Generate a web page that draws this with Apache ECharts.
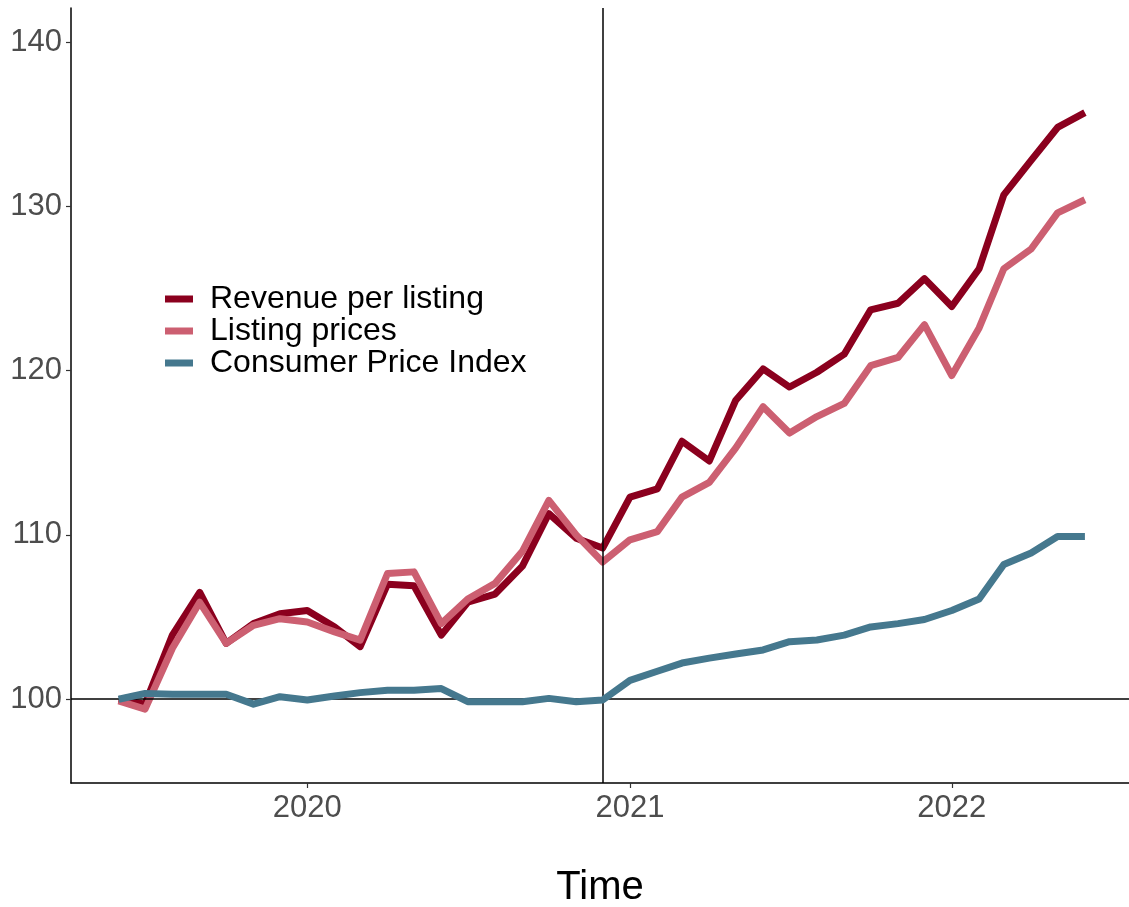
<!DOCTYPE html>
<html>
<head>
<meta charset="utf-8">
<script src="https://cdn.jsdelivr.net/npm/echarts@6/dist/echarts.min.js"></script>
<style>
html,body{margin:0;padding:0;background:#fff;}
#chart{width:1129px;height:907px;}
</style>
</head>
<body>
<div id="chart"></div>
<script>
const months = [
 '2019-06-01','2019-07-01','2019-08-01','2019-09-01','2019-10-01','2019-11-01','2019-12-01',
 '2020-01-01','2020-02-01','2020-03-01','2020-04-01','2020-05-01','2020-06-01','2020-07-01','2020-08-01','2020-09-01','2020-10-01','2020-11-01','2020-12-01',
 '2021-01-01','2021-02-01','2021-03-01','2021-04-01','2021-05-01','2021-06-01','2021-07-01','2021-08-01','2021-09-01','2021-10-01','2021-11-01','2021-12-01',
 '2022-01-01','2022-02-01','2022-03-01','2022-04-01','2022-05-01','2022-06-01'
];
const revenuePerListing = [
 100, 99.7, 103.9, 106.5, 103.4, 104.6, 105.2,
 105.4, 104.4, 103.2, 107.0, 106.9, 103.9, 105.9, 106.4, 108.1, 111.3, 109.8, 109.2,
 112.3, 112.8, 115.7, 114.5, 118.2, 120.1, 119.0, 119.9, 121.0, 123.7, 124.1, 125.6,
 123.9, 126.2, 130.7, 132.8, 134.8, 135.7
];
const listingPrices = [
 99.9, 99.4, 103.1, 105.9, 103.4, 104.5, 104.9,
 104.7, 104.1, 103.6, 107.65, 107.75, 104.6, 106.1, 107.05, 109.0, 112.1, 110.0, 108.35,
 109.7, 110.2, 112.3, 113.2, 115.3, 117.8, 116.2, 117.2, 118.0, 120.3, 120.8, 122.8,
 119.7, 122.6, 126.2, 127.4, 129.6, 130.4
];
const cpi = [
 100.0, 100.35, 100.3, 100.3, 100.3, 99.7, 100.15,
 99.95, 100.2, 100.4, 100.55, 100.55, 100.65, 99.85, 99.85, 99.85, 100.05, 99.85, 99.95,
 101.15, 101.7, 102.2, 102.5, 102.75, 103.0, 103.5, 103.6, 103.9, 104.4, 104.6, 104.85,
 105.4, 106.1, 108.2, 108.9, 109.9, 109.9
];
const seriesNames = ['Revenue per listing', 'Listing prices', 'Consumer Price Index'];
const seriesColors = ['#8b001e', '#cc5f71', '#45788e'];
const yTicks = [100, 110, 120, 130, 140];
const xTickDates = ['2020-01-01', '2021-01-01', '2022-01-01'];
const eventDate = '2020-12-01';
const xRange = ['2019-04-08', '2022-07-21'];

const FONT = 'Liberation Sans, Arial, Helvetica, sans-serif';
const ts = s => Date.UTC(+s.slice(0, 4), +s.slice(5, 7) - 1, +s.slice(8, 10));
const pair = arr => months.map((m, i) => [ts(m), arr[i]]);
const allData = [revenuePerListing, listingPrices, cpi];

const chart = echarts.init(document.getElementById('chart'), null, {renderer: 'canvas'});
const series = seriesNames.map((name, k) => ({
  name: name,
  type: 'line',
  data: pair(allData[k]),
  symbol: 'none',
  color: seriesColors[k],
  lineStyle: {width: 7, color: seriesColors[k], cap: 'butt', join: 'round'},
  z: 3 + k,
  animation: false
}));
series.push({
  name: 'ref',
  type: 'line',
  data: [],
  z: 2,
  markLine: {
    silent: true,
    symbol: 'none',
    label: {show: false},
    lineStyle: {color: '#000', width: 1.5, type: 'solid'},
    animation: false,
    data: [{yAxis: 100}, {xAxis: ts(eventDate)}]
  }
});

chart.setOption({
  animation: false,
  backgroundColor: '#fff',
  grid: {left: 71, right: 0, top: 8, bottom: 124, containLabel: false, outerBoundsMode: 'none'},
  legend: {
    data: seriesNames,
    orient: 'vertical',
    left: 160,
    top: 278,
    icon: 'rect',
    itemWidth: 28,
    itemHeight: 7,
    itemGap: 0,
    textStyle: {fontFamily: FONT, fontSize: 32, color: '#000', lineHeight: 32, padding: [0, 0, 0, 12]}
  },
  xAxis: {
    type: 'value',
    min: ts(xRange[0]),
    max: ts(xRange[1]),
    name: 'Time',
    nameLocation: 'middle',
    nameGap: 85,
    nameTextStyle: {fontFamily: FONT, fontSize: 40, color: '#000'},
    axisLine: {show: true, onZero: false, lineStyle: {color: '#000', width: 1.5}},
    axisTick: {show: true, length: 5, lineStyle: {color: '#333', width: 1.2},
      customValues: xTickDates.map(ts)},
    axisLabel: {show: true, fontFamily: FONT, fontSize: 31, color: '#4d4d4d', margin: 10,
      customValues: xTickDates.map(ts),
      formatter: v => String(new Date(v).getUTCFullYear())},
    splitLine: {show: false}
  },
  yAxis: {
    type: 'value',
    min: 94.9,
    max: 142.07,
    axisLine: {show: true, onZero: false, lineStyle: {color: '#000', width: 1.5}},
    axisTick: {show: true, length: 5, lineStyle: {color: '#333', width: 1.2}, customValues: yTicks},
    axisLabel: {show: true, fontFamily: FONT, fontSize: 31, color: '#4d4d4d', margin: 9, customValues: yTicks},
    splitLine: {show: false}
  },
  series: series
});
</script>
</body>
</html>
